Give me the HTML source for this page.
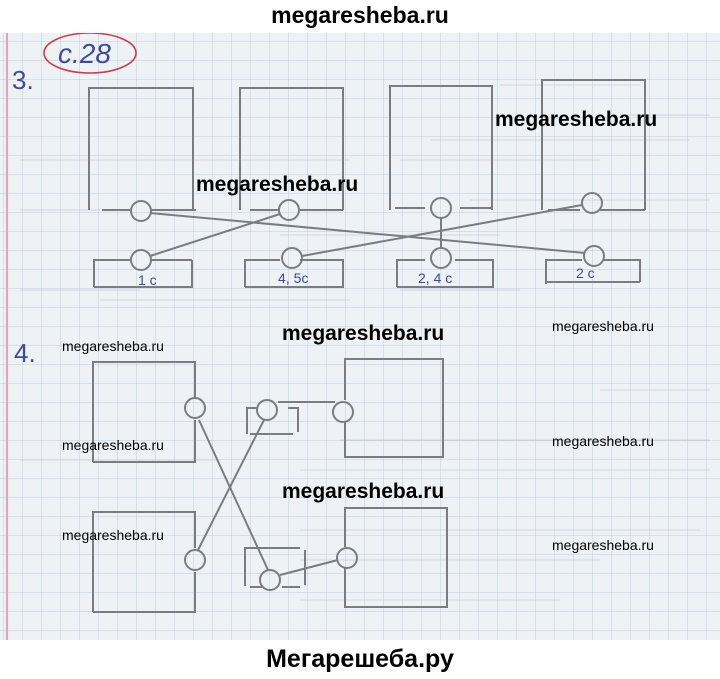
<!DOCTYPE html>
<html><head><meta charset="utf-8"><style>
html,body{margin:0;padding:0;width:720px;height:679px;overflow:hidden;background:#fff}
.wm{position:absolute;font-family:"Liberation Sans",sans-serif;font-weight:bold;color:#000}
</style></head><body>
<div style="position:absolute;left:0;top:0;width:720px;height:679px">
<svg width="720" height="679" style="position:absolute;left:0;top:0">
<defs>
<pattern id="g" width="19" height="19" patternUnits="userSpaceOnUse" x="4" y="4">
<path d="M19 0V19M0 19H19" stroke="#b9cde0" stroke-width="1" fill="none"/>
</pattern>
</defs>
<rect x="0" y="33" width="720" height="607" fill="#eef2f5"/>
<rect x="0" y="33" width="720" height="607" fill="url(#g)"/>
<line x1="7" y1="33" x2="7" y2="640" stroke="#e6a0b8" stroke-width="2"/>
<g stroke="#c9cdd3" stroke-width="1" fill="none" opacity="0.8">
<path d="M500 85h140M620 115h90M430 140h260M20 160h330M400 160h200M20 210h80M470 200h240M280 235h220M560 230h150M20 290h120M100 300h250M400 290h120M600 390h110M340 440h370M20 460h200M300 470h410M300 530h400M300 560h300M300 600h260"/>
</g>
<ellipse cx="90" cy="53" rx="46" ry="20" fill="none" stroke="#d23a4a" stroke-width="1.6"/>
<g stroke="#7a7c80" stroke-width="2" fill="none">
<path d="M89 210V88H193V210M102 210H130M152 210H196"/>
<path d="M240 210V88H343V210M250 210H280M300 210H343"/>
<path d="M390 210V86H492V210M395 208H425M460 208H492"/>
<path d="M542 210V80H645V210M548 210H580M600 210H645"/>
<path d="M94 287V260H130M150 260H192M94 287H192V260"/>
<path d="M245 287V260H280M300 260H343V287H245"/>
<path d="M397 287V260H425M455 260H493V287H397"/>
<path d="M546 284V260H582M604 260H640V282M546 282H640"/>
<circle cx="141" cy="211" r="10"/><circle cx="289" cy="210" r="10"/>
<circle cx="441" cy="208" r="10"/><circle cx="592" cy="203" r="10"/>
<circle cx="141" cy="260" r="10"/><circle cx="292" cy="258" r="10"/>
<circle cx="441" cy="258" r="10"/><circle cx="594" cy="256" r="10"/>
<path d="M150 213L585 253M150 256L280 214M302 256L582 205M441 218V248"/>
<!-- task 4 -->
<path d="M93 462V362H195V398M93 462H195V420"/>
<path d="M93 612V512H195V548M93 612H195V572"/>
<path d="M345 400V359H443V457H345V422"/>
<path d="M345 547V508H447V607H345V567"/>
<circle cx="195" cy="408" r="10"/><circle cx="267" cy="410" r="10"/><circle cx="343" cy="412" r="10"/>
<circle cx="195" cy="560" r="10"/><circle cx="270" cy="580" r="10"/><circle cx="347" cy="558" r="10"/>
<path d="M247 434V408H257M278 402H335M288 408H298V432M250 434H293"/>
<path d="M245 586V548H300M305 550V585M250 587H262M282 587H300M280 575L338 560"/>
<path d="M199 420L268 570M198 550L264 420"/>
</g>
</svg>
<div style="position:absolute;left:0;top:0;width:720px;height:33px;background:#fff"></div>
<div style="position:absolute;left:0;top:640px;width:720px;height:39px;background:#fff"></div>
<div class="wm" style="left:0;width:720px;text-align:center;top:2px;font-size:23px">megaresheba.ru</div>
<div class="wm" style="left:0;width:720px;text-align:center;top:645px;font-size:25px">Мегарешеба.ру</div>
<div style="position:absolute;left:58px;top:38px;font:italic 28px 'Liberation Sans',sans-serif;color:#3c4aa0">c.28</div>
<div style="position:absolute;left:12px;top:65px;font:26px 'Liberation Sans',sans-serif;color:#3c4aa0">3.</div>
<div style="position:absolute;left:14px;top:338px;font:26px 'Liberation Sans',sans-serif;color:#3c4aa0">4.</div>
<div style="position:absolute;left:138px;top:272px;font:14px 'Liberation Sans',sans-serif;color:#3c4aa0">1 c</div>
<div style="position:absolute;left:278px;top:270px;font:14px 'Liberation Sans',sans-serif;color:#3c4aa0">4, 5c</div>
<div style="position:absolute;left:418px;top:270px;font:14px 'Liberation Sans',sans-serif;color:#3c4aa0">2, 4 c</div>
<div style="position:absolute;left:576px;top:265px;font:14px 'Liberation Sans',sans-serif;color:#3c4aa0">2 c</div>
<div class="wm" style="left:495px;top:108px;font-size:21px">megaresheba.ru</div>
<div class="wm" style="left:196px;top:173px;font-size:21px">megaresheba.ru</div>
<div class="wm" style="left:282px;top:322px;font-size:21px">megaresheba.ru</div>
<div class="wm" style="left:282px;top:480px;font-size:21px">megaresheba.ru</div>
<div class="wm" style="left:62px;top:338px;font-size:14px;font-weight:normal">megaresheba.ru</div>
<div class="wm" style="left:62px;top:437px;font-size:14px;font-weight:normal">megaresheba.ru</div>
<div class="wm" style="left:62px;top:527px;font-size:14px;font-weight:normal">megaresheba.ru</div>
<div class="wm" style="left:552px;top:318px;font-size:14px;font-weight:normal">megaresheba.ru</div>
<div class="wm" style="left:552px;top:433px;font-size:14px;font-weight:normal">megaresheba.ru</div>
<div class="wm" style="left:552px;top:537px;font-size:14px;font-weight:normal">megaresheba.ru</div>
</div>
</body></html>
